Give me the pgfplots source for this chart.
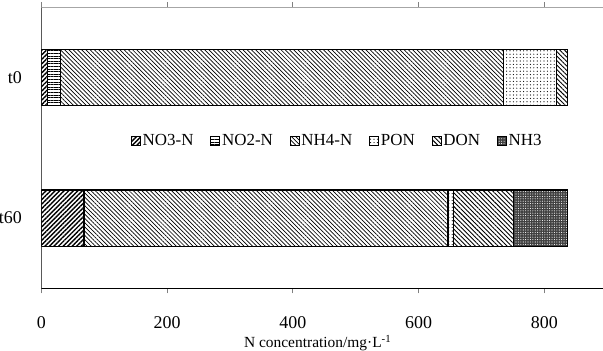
\documentclass[border=0pt]{standalone}
\usepackage{fontspec}
\setmainfont{Liberation Serif}
\usepackage{pgfplots}
\pgfplotsset{compat=1.18}
\usepackage{pgfplotstable}
\usetikzlibrary{patterns.meta}

\pgfplotstableread{
y NO3 NO2 NH4 PON DON NH3
0 68 0 579 8 96 86
1 10 20 705 84 18 0
}\datatable

\begin{document}
\begin{tikzpicture}
\begin{axis}[
  name=ax,
  scale only axis,
  width=561.7bp, height=281bp,
  xbar stacked,
  bar width=0.4,
  xmin=0, xmax=893.4,
  ymin=-0.5, ymax=1.5,
  ytick={0,1}, yticklabels={t60,t0},
  xtick={0,200,400,600,800},
  axis line style={draw=none},
  tick align=outside,
  major tick length=5bp,
  xtick style={draw=gray, line width=0.6bp},
  ytick style={draw=none},
  ticklabel style={font=\fontsize{18}{18}\selectfont},
  /pgf/number format/assume math mode=true,
  xticklabel style={anchor=base, yshift=-35.5bp},
  yticklabel style={anchor=east, xshift=-11bp},
  xlabel={N concentration/mg·L\textsuperscript{-1}},
  xlabel style={at={(rel axis cs:0.492,0)}, anchor=base, yshift=-59.5bp, font=\fontsize{15.5}{15.5}\selectfont},
  legend image code/.code={\draw[#1, draw=black, line width=0.6bp] (0bp,-4.4bp) rectangle (9bp,4.4bp);},
  legend columns=6,
  legend style={draw=none, fill=none, at={(rel axis cs:0.527,0.524)}, anchor=center,
    font=\fontsize{17}{17}\selectfont,
    /tikz/every even column/.append style={column sep=15bp}},
]
\addplot[draw=black, line width=1.2bp, pattern={Lines[angle=45,distance=3.2bp,line width=1.4bp]}] table[x=NO3,y=y]{\datatable};
\addplot[draw=black, line width=1.2bp, pattern={Lines[angle=0,distance=2.6bp,line width=1bp]}] table[x=NO2,y=y]{\datatable};
\addplot[draw=black, line width=1.2bp, pattern={Lines[angle=-45,distance=3bp,line width=0.7bp]}] table[x=NH4,y=y]{\datatable};
\addplot[draw=black, line width=1.2bp, pattern={Dots[distance=3.4bp,radius=0.6bp]}] table[x=PON,y=y]{\datatable};
\addplot[draw=black, line width=1.2bp, pattern={Lines[angle=-45,distance=3.2bp,line width=0.9bp]}] table[x=DON,y=y]{\datatable};
\addplot[draw=black, line width=1.2bp, fill=black!75, postaction={pattern color=white, pattern={Dots[distance=2.4bp,radius=0.55bp]}}] table[x=NH3,y=y]{\datatable};
\legend{NO3-N,NO2-N,NH4-N,PON,DON,NH3}
\draw[gray!70, line width=0.8bp] (rel axis cs:0,1) -- (rel axis cs:1,1);
\draw[black, line width=1.2bp] (rel axis cs:0,1) -- (rel axis cs:0,0) -- (rel axis cs:1,0);
\end{axis}
\pgfresetboundingbox
\path[use as bounding box] ([xshift=-41.3bp,yshift=-61.7bp]ax.south west) rectangle ([yshift=7.3bp]ax.north east);
\end{tikzpicture}
\end{document}
